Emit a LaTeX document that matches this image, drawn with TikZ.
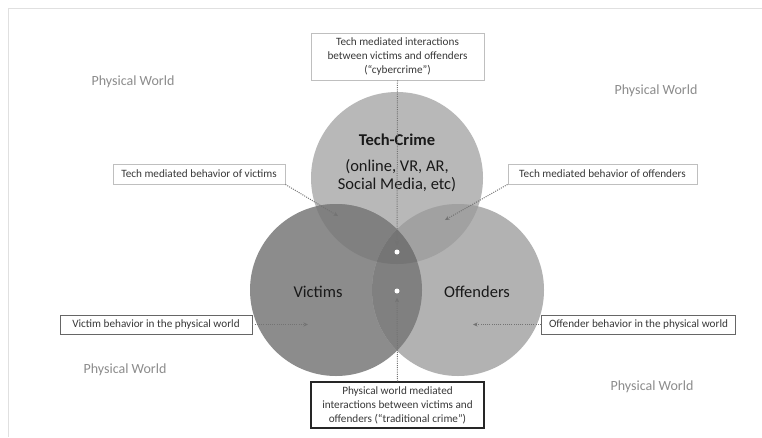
\documentclass[tikz,border=0pt]{standalone}
\usepackage{fontspec}
\setmainfont{Carlito}
\usetikzlibrary{arrows.meta}
\definecolor{cT}{gray}{0.72}
\definecolor{cV}{gray}{0.55}
\definecolor{cO}{gray}{0.70}
\definecolor{cTV}{gray}{0.50}
\definecolor{cTO}{gray}{0.63}
\definecolor{cVO}{gray}{0.50}
\definecolor{cTVO}{gray}{0.46}
\begin{document}
\begin{tikzpicture}[x=1pt,y=-1pt,
  lbl/.style={font=\fontsize{11.2}{14}\selectfont, text=black!78, align=center, inner sep=2pt},
  lightbox/.style={lbl, draw=black!25, line width=0.9pt},
  darkbox/.style={lbl, draw=black!60, line width=0.9pt},
  blackbox/.style={lbl, draw=black!85, line width=1.2pt},
  world/.style={font=\fontsize{14}{16}\selectfont, text=black!45},
  big/.style={font=\fontsize{16.5}{17.5}\selectfont, text=black!90, align=center},
  conn/.style={dash pattern=on 1pt off 1.2pt, draw=black!55, line width=1pt, -{Stealth[length=4.5pt,width=4pt]}},
  wdot/.style={circle, fill=white, inner sep=0pt, minimum size=5pt}]
\useasboundingbox (0,0) rectangle (762,437);
\fill[white] (0,0) rectangle (762,437);
\draw[black!12, line width=1pt] (762,8) -- (8,8) -- (8,437);

% circle centres
\coordinate (T) at (397,178);
\coordinate (V) at (336,290);
\coordinate (O) at (458,290);
\def\R{86}

\fill[cT] (T) circle (\R);
\fill[cV] (V) circle (\R);
\fill[cO] (O) circle (\R);
\begin{scope}
  \clip (T) circle (\R);
  \fill[cTV] (V) circle (\R);
  \fill[cTO] (O) circle (\R);
\end{scope}
\begin{scope}
  \clip (V) circle (\R);
  \fill[cVO] (O) circle (\R);
\end{scope}
\begin{scope}
  \clip (T) circle (\R);
  \clip (V) circle (\R);
  \fill[cTVO] (O) circle (\R);
\end{scope}

% circle labels
\node[big] (tc) at (397,140) {\bfseries Tech-Crime};
\node[big] (tcsub) at (397,175.5) {(online, VR, AR,\\Social Media, etc)};
\node[big] (vic) at (318,292) {Victims};
\node[big] (off) at (477,292) {Offenders};

% physical world labels
\node[world] (pw1) at (133,82) {Physical World};
\node[world] (pw2) at (656,91) {Physical World};
\node[world] (pw3) at (125,370) {Physical World};
\node[world] (pw4) at (652,387) {Physical World};

% boxes
\node[lightbox, minimum width=173pt, minimum height=47pt] (tbox) at (397.5,56.5)
  {Tech mediated interactions\\between victims and offenders\\(“cybercrime”)};
\node[blackbox, minimum width=173pt, minimum height=46pt] (bbox) at (397.5,405)
  {Physical world mediated\\interactions between victims and\\offenders (“traditional crime”)};
\node[lightbox, minimum width=172pt, minimum height=20pt] (ltb) at (199,174)
  {Tech mediated behavior of victims};
\node[lightbox, minimum width=189pt, minimum height=20pt] (rtb) at (602.5,174)
  {Tech mediated behavior of offenders};
\node[darkbox, minimum width=192pt, minimum height=19pt] (vpb) at (156,324.5)
  {Victim behavior in the physical world};
\node[darkbox, minimum width=194pt, minimum height=19pt] (opb) at (638.5,324.5)
  {Offender behavior in the physical world};

% white dots
\node[wdot] (d1) at (397,252) {};
\node[wdot] (d2) at (397,291) {};

% connector ends
\coordinate (lt) at (338,216);
\coordinate (rt) at (445,220);
\coordinate (vp) at (308,324.5);
\coordinate (op) at (473,324.5);

\draw[conn, shorten >=4pt] (tbox.south) -- (d1.north);
\draw[conn, shorten >=4pt] (bbox.north) -- (d2.south);
\draw[conn] (ltb.south east) -- (lt);
\draw[conn] (rtb.south west) -- (rt);
\draw[conn] (vpb.east) -- (vp);
\draw[conn] (opb.west) -- (op);
\end{tikzpicture}
\end{document}
